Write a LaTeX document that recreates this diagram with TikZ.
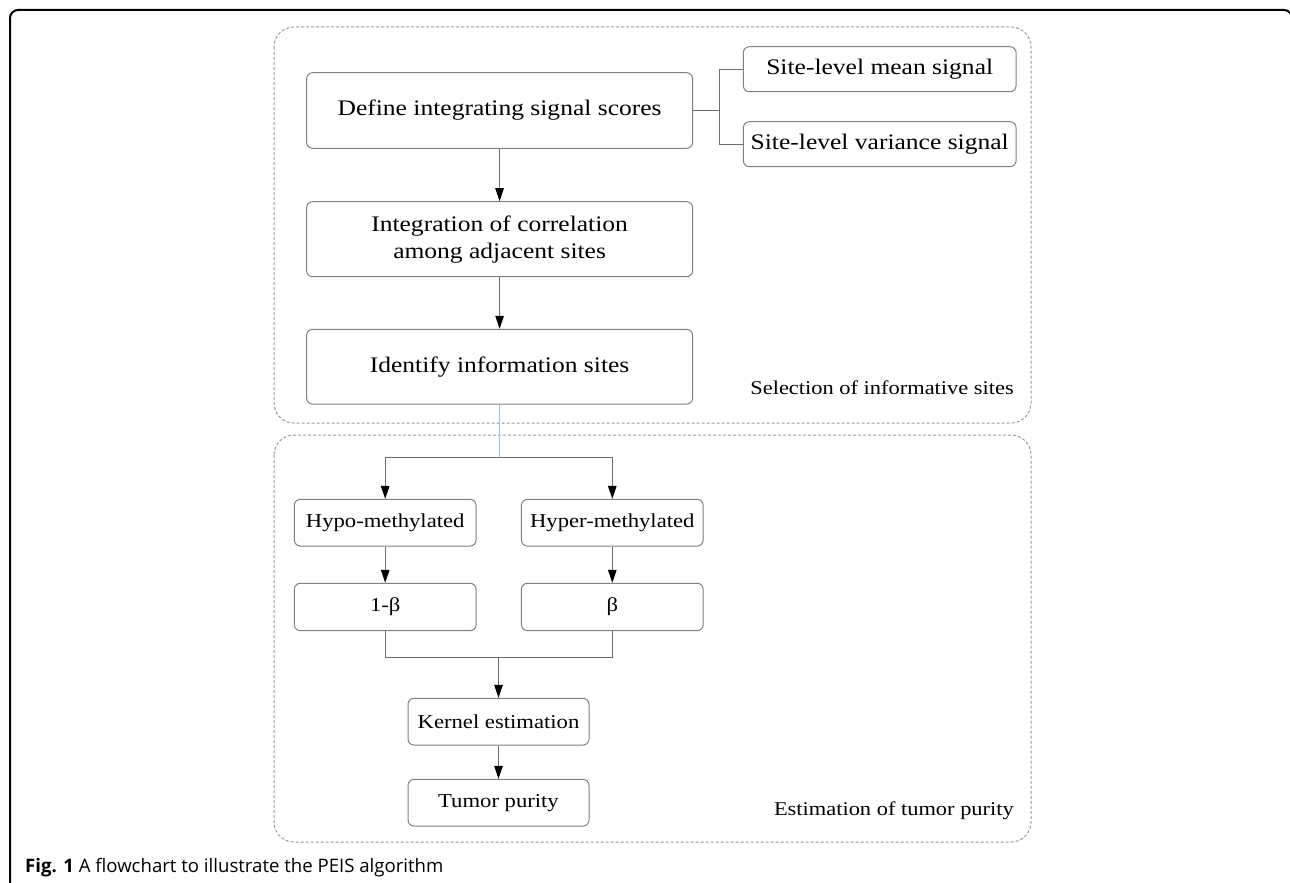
\documentclass[tikz,border=0pt]{standalone}
\usepackage{fontspec}
\setmainfont[FakeStretch=1.15]{Liberation Serif}
\newfontfamily\capfont{Open Sans}
\usetikzlibrary{arrows.meta}
\definecolor{boxgray}{HTML}{808080}
\definecolor{linegray}{HTML}{6E6E6E}
\definecolor{dashgray}{HTML}{9A9A9A}
\definecolor{splitblue}{HTML}{9DC3E6}
\tikzset{
  box/.style={draw=boxgray, rounded corners=6pt, line width=1pt, align=center,
    inner sep=0pt, font=\fontsize{22.2}{27}\selectfont},
  sbox/.style={box, font=\fontsize{19.7}{24}\selectfont},
  conn/.style={draw=linegray, line width=1pt},
  arr/.style={conn, -{Triangle[length=13pt,width=8.5pt,color=black]}},
  grp/.style={draw=dashgray, dash pattern=on 3pt off 2pt, line width=1pt, rounded corners=20pt},
  grplabel/.style={anchor=east, inner sep=0pt, font=\fontsize{19.5}{22}\selectfont},
}
\begin{document}
\begin{tikzpicture}[x=1pt, y=-1pt]
\useasboundingbox (0,0) rectangle (1290,883);
% outer frame
\draw[line width=2pt, rounded corners=8pt] (10,900) -- (10,10) -- (1292,10) -- (1292,24);
% groups
\draw[grp] (274,27) rectangle (1031,423);
\draw[grp] (274,435) rectangle (1031,842);
\node[grplabel] (lab1) at (1014,388) {Selection of informative sites};
\node[grplabel] (lab2) at (1014,811) {Estimation of tumor purity};
% nodes
\node[box, minimum width=386pt, minimum height=75.6pt] (def) at (499.6,110.5) {Define integrating signal scores};
\node[box, minimum width=386pt, minimum height=75pt] (integ) at (499.6,239.2) {Integration of correlation\\among adjacent sites};
\node[box, minimum width=386pt, minimum height=74.7pt] (ident) at (499.6,366.7) {Identify information sites};
\node[box, minimum width=272.7pt, minimum height=45pt] (mean) at (879.7,69.2) {Site-level mean signal};
\node[box, minimum width=272.7pt, minimum height=45pt] (var) at (879.7,144.2) {Site-level variance signal};
\node[sbox, minimum width=181.7pt, minimum height=46.7pt] (hypo) at (385.2,522.7) {Hypo-methylated};
\node[sbox, minimum width=181.7pt, minimum height=46.7pt] (hyper) at (612.3,522.7) {Hyper-methylated};
\node[sbox, minimum width=181.7pt, minimum height=47.4pt] (onemb) at (385.2,607) {1-β};
\node[sbox, minimum width=181.7pt, minimum height=47.4pt] (beta) at (612.3,607) {β};
\node[sbox, minimum width=181pt, minimum height=46.7pt] (kernel) at (498.5,721.7) {Kernel estimation};
\node[sbox, minimum width=181pt, minimum height=46.7pt] (tumor) at (498.5,802.7) {Tumor purity};
% connectors
\coordinate (br) at (719.3,110.5);
\draw[conn] (def.east) -- (br);
\draw[conn] (mean.west) -| (br) |- (var.west);
\draw[arr] (def.south) -- (integ.north);
\draw[arr] (integ.south) -- (ident.north);
\coordinate (split) at (499.6,457.3);
\draw[draw=splitblue, line width=1pt] (ident.south) -- (split);
\draw[arr] (split) -| (hypo.north);
\draw[arr] (split) -| (hyper.north);
\draw[arr] (hypo.south) -- (onemb.north);
\draw[arr] (hyper.south) -- (beta.north);
\coordinate (merge) at (498.5,657.3);
\draw[conn] (onemb.south) |- (merge) -| (beta.south);
\draw[arr] (merge) -- (kernel.north);
\draw[arr] (kernel.south) -- (tumor.north);
% caption
\node[anchor=base west, inner sep=0pt, font=\capfont\fontsize{18.6}{22}\selectfont] (cap) at (25,872) {\textbf{Fig. 1} A flowchart to illustrate the PEIS algorithm};
\end{tikzpicture}
\end{document}
